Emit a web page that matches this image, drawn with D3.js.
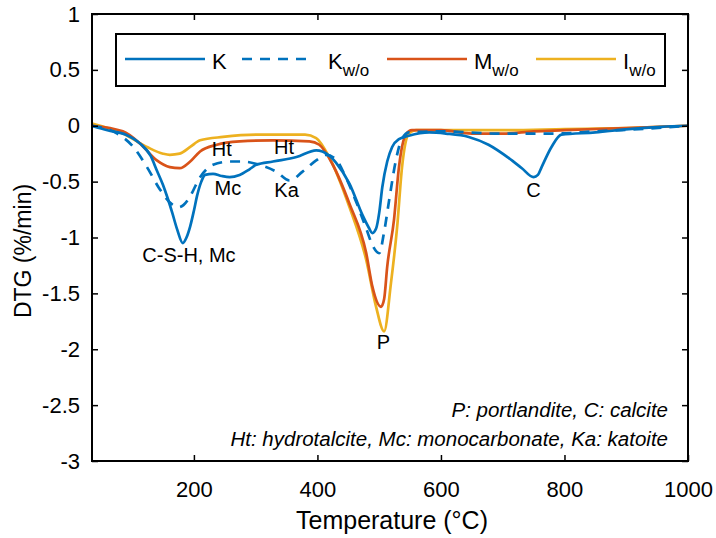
<!DOCTYPE html>
<html><head><meta charset="utf-8">
<script src="https://cdn.jsdelivr.net/npm/d3@7"></script>
<style>body{margin:0;background:#fff}svg{display:block}text{font-family:"Liberation Sans",Arial,sans-serif}</style>
</head><body>
<svg id="c" width="716" height="538"></svg>
<script>
const xTicks = [200, 400, 600, 800, 1000];
const yTicks = [1, 0.5, 0, -0.5, -1, -1.5, -2, -2.5, -3];

const kT = [35, 60, 90, 113, 130, 140, 150, 157, 165, 173, 182, 188, 194, 200, 205, 212, 218, 231, 245, 258, 274, 290, 301, 328, 366, 398, 408, 420, 430, 452, 473, 483, 489, 495, 500, 505, 513, 521, 532, 548, 581, 608, 645, 677, 710, 731, 750, 757, 763, 779, 795, 850, 904, 957, 1000];
const kV = [0, -0.04, -0.08, -0.16, -0.27, -0.40, -0.53, -0.64, -0.78, -0.93, -1.05, -1.0, -0.9, -0.76, -0.63, -0.50, -0.44, -0.43, -0.45, -0.46, -0.44, -0.39, -0.35, -0.32, -0.28, -0.22, -0.23, -0.27, -0.33, -0.52, -0.80, -0.91, -0.96, -0.92, -0.78, -0.55, -0.32, -0.19, -0.12, -0.09, -0.06, -0.07, -0.10, -0.17, -0.29, -0.38, -0.46, -0.44, -0.37, -0.19, -0.08, -0.06, -0.03, -0.01, 0];

const kwoT = [35, 76, 102, 124, 145, 166, 174, 183, 193, 210, 231, 258, 279, 306, 333, 355, 376, 398, 414, 430, 445, 462, 479, 490, 500, 508, 516, 527, 535, 548, 600, 688, 785, 850, 920, 1000];
const kwoV = [0, -0.07, -0.19, -0.37, -0.57, -0.71, -0.73, -0.71, -0.64, -0.46, -0.35, -0.32, -0.32, -0.35, -0.41, -0.49, -0.41, -0.31, -0.26, -0.30, -0.45, -0.67, -0.92, -1.08, -1.14, -0.95, -0.67, -0.31, -0.14, -0.06, -0.05, -0.07, -0.07, -0.05, -0.03, 0];

const mT = [35, 85, 113, 140, 161, 177, 194, 210, 237, 274, 328, 387, 403, 424, 452, 479, 489, 503, 508, 513, 524, 532, 543, 553, 600, 650, 700, 750, 800, 900, 1000];
const mV = [0, -0.05, -0.16, -0.31, -0.37, -0.38, -0.32, -0.23, -0.17, -0.14, -0.13, -0.14, -0.17, -0.34, -0.70, -1.14, -1.44, -1.62, -1.55, -1.26, -0.84, -0.37, -0.08, -0.04, -0.04, -0.07, -0.07, -0.05, -0.04, -0.02, 0];

const iT = [35, 85, 124, 150, 161, 177, 194, 210, 247, 301, 380, 398, 419, 452, 479, 495, 508, 519, 529, 537, 548, 560, 600, 700, 800, 900, 1000];
const iV = [0.02, -0.07, -0.19, -0.25, -0.26, -0.25, -0.19, -0.13, -0.10, -0.08, -0.08, -0.11, -0.28, -0.73, -1.2, -1.62, -1.84, -1.41, -0.91, -0.37, -0.07, -0.04, -0.04, -0.04, -0.03, -0.02, 0];

const labels = [
  {t: "C-S-H, Mc", T: 192, v: -1.22},
  {t: "Mc", T: 255, v: -0.62},
  {t: "Ht", T: 245, v: -0.27},
  {t: "Ht", T: 346, v: -0.25},
  {t: "Ka", T: 350, v: -0.64},
  {t: "P", T: 507, v: -2.0},
  {t: "C", T: 750, v: -0.64}
];

const svg = d3.select("#c");
const L = 92, R = 688, T0 = 14, B = 461;
const x = d3.scaleLinear().domain([35, 1000]).range([L, R]);
const y = d3.scaleLinear().domain([-3, 1]).range([B, T0]);

svg.append("clipPath").attr("id", "clip").append("rect")
  .attr("x", L).attr("y", T0).attr("width", R - L).attr("height", B - T0);

const line = d3.line().x(d => x(d[0])).y(d => y(d[1])).curve(d3.curveMonotoneX);
const zip = (a, b) => a.map((t, i) => [t, b[i]]);

const series = [
  {d: zip(kT, kV), c: "#0072BD", dash: null},
  {d: zip(kwoT, kwoV), c: "#0072BD", dash: "10,8"},
  {d: zip(mT, mV), c: "#D95319", dash: null},
  {d: zip(iT, iV), c: "#EDB120", dash: null}
];
const g = svg.append("g").attr("clip-path", "url(#clip)");
[3, 2, 1, 0].forEach(i => {
  const s = series[i];
  g.append("path").attr("d", line(s.d)).attr("fill", "none")
    .attr("stroke", s.c).attr("stroke-width", 2.7)
    .attr("stroke-dasharray", s.dash).attr("stroke-linejoin", "round");
});

const fs = 22;
const ax = svg.append("g");
const styleAx = s => { s.select(".domain").remove(); s.selectAll("text").attr("font-size", fs).attr("fill", "#000").attr("font-family", "Liberation Sans, Arial"); s.selectAll("line").attr("stroke", "#000").attr("stroke-width", 1.5); };
ax.append("g").attr("transform", `translate(0,${B})`)
  .call(d3.axisBottom(x).tickValues(xTicks).tickSizeInner(-6).tickSizeOuter(0).tickPadding(20).tickFormat(d => String(d)))
  .call(styleAx);
ax.append("g").attr("transform", `translate(0,${T0})`)
  .call(d3.axisTop(x).tickValues(xTicks).tickSizeInner(-6).tickSizeOuter(0).tickFormat(""))
  .call(styleAx);
ax.append("g").attr("transform", `translate(${L},0)`)
  .call(d3.axisLeft(y).tickValues(yTicks).tickSizeInner(-6).tickSizeOuter(0).tickPadding(12).tickFormat(d => String(d)))
  .call(styleAx);
ax.append("g").attr("transform", `translate(${R},0)`)
  .call(d3.axisRight(y).tickValues(yTicks).tickSizeInner(-6).tickSizeOuter(0).tickFormat(""))
  .call(styleAx);
svg.append("rect").attr("x", L).attr("y", T0).attr("width", R - L).attr("height", B - T0)
  .attr("fill", "none").attr("stroke", "#000").attr("stroke-width", 2);

svg.append("text").attr("x", 392).attr("y", 529).attr("text-anchor", "middle")
  .attr("font-size", 25).text("Temperature (°C)");
svg.append("text").attr("transform", `translate(31,251) rotate(-90)`)
  .attr("text-anchor", "middle").attr("font-size", 23).text("DTG (%/min)");

svg.append("g").selectAll("text").data(labels).join("text")
  .attr("x", d => x(d.T)).attr("y", d => y(d.v)).attr("text-anchor", "middle")
  .attr("font-size", 20).text(d => d.t);

svg.append("text").attr("x", 668).attr("y", 417).attr("text-anchor", "end")
  .attr("font-size", 20.5).attr("font-style", "italic").text("P: portlandite, C: calcite");
svg.append("text").attr("x", 668).attr("y", 446).attr("text-anchor", "end")
  .attr("font-size", 20.5).attr("font-style", "italic").text("Ht: hydrotalcite, Mc: monocarbonate, Ka: katoite");

const lg = svg.append("g");
lg.append("rect").attr("x", 116).attr("y", 34).attr("width", 549).attr("height", 52)
  .attr("fill", "#fff").attr("stroke", "#000").attr("stroke-width", 2);
const items = [
  {x0: 125, x1: 205, tx: 212, main: "K", sub: "", c: "#0072BD", dash: null},
  {x0: 242, x1: 314, tx: 328, main: "K", sub: "w/o", c: "#0072BD", dash: "10,8"},
  {x0: 387, x1: 467, tx: 474, main: "M", sub: "w/o", c: "#D95319", dash: null},
  {x0: 536, x1: 616, tx: 623, main: "I", sub: "w/o", c: "#EDB120", dash: null}
];
items.forEach(it => {
  lg.append("line").attr("x1", it.x0).attr("x2", it.x1).attr("y1", 59).attr("y2", 59)
    .attr("stroke", it.c).attr("stroke-width", 2.7).attr("stroke-dasharray", it.dash);
  const t = lg.append("text").attr("x", it.tx).attr("y", 69).attr("font-size", 22);
  t.append("tspan").text(it.main);
  if (it.sub) t.append("tspan").attr("dy", 7).attr("font-size", 17).text(it.sub);
});
</script>
</body></html>
